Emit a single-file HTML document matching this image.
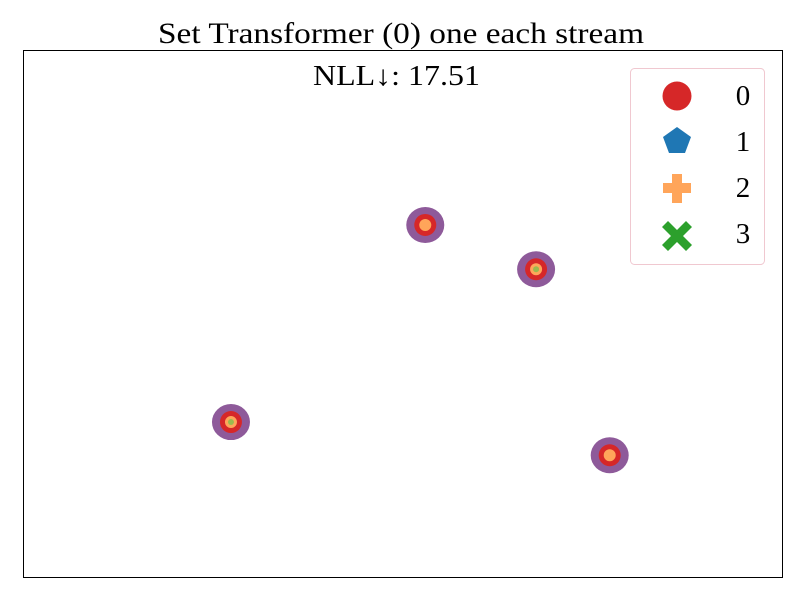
<!DOCTYPE html>
<html><head><meta charset="utf-8">
<style>
html,body{margin:0;padding:0;background:#fff;}
svg{display:block;font-family:"Liberation Serif",serif;}
</style></head>
<body>
<svg id="chart" width="800" height="600" viewBox="0 0 800 600">
<rect width="800" height="600" fill="#fff"/>
<text x="158" y="43" font-size="30" textLength="486" lengthAdjust="spacingAndGlyphs" fill="#000">Set Transformer (0) one each stream</text>
<rect x="23.5" y="50.5" width="759" height="527" fill="none" stroke="#000" stroke-width="1"/>
<text x="313" y="85" font-size="28" textLength="167" lengthAdjust="spacingAndGlyphs" fill="#000">NLL↓: 17.51</text>
<g id="blobs"></g>
<g>
<rect x="630.5" y="68.5" width="134" height="196" rx="4" fill="#fff" stroke="#f0c8d0"/>
<g>
<circle cx="677" cy="96" r="14.5" fill="#d62728"/>
<text x="743" y="105" font-size="29" text-anchor="middle">0</text></g>
<g>
<polygon points="677,127 691,137 685,153 669,153 663,137" fill="#1f77b4"/>
<text x="743" y="151" font-size="29" text-anchor="middle">1</text></g>
<g>
<path d="M672,174h10v9h9v10h-9v10h-10v-10h-9v-10h9z" fill="#ffa55a"/>
<text x="743" y="197" font-size="29" text-anchor="middle">2</text></g>
<g>
<path d="M668,221l9,9l9,-9l6,6l-9,9l9,9l-6,6l-9,-9l-9,9l-6,-6l9,-9l-9,-9z" fill="#2ca02c"/>
<text x="743" y="243" font-size="29" text-anchor="middle">3</text></g>
</g>
</svg>
<script>
const pointX = [0.530, 0.676, 0.274, 0.773];
const pointY = [0.668, 0.584, 0.294, 0.231];
const hasGreenCore = [false, true, true, false];
const xDomain = [0, 1];
const yDomain = [0, 1];
function sx(v){ return 23 + (v - xDomain[0]) / (xDomain[1] - xDomain[0]) * 759; }
function sy(v){ return 577 - (v - yDomain[0]) / (yDomain[1] - yDomain[0]) * 527; }
const g = document.getElementById('blobs');
const ns = 'http://www.w3.org/2000/svg';
pointX.forEach((v, i) => {
  const cx = sx(v), cy = sy(pointY[i]);
  const grp = document.createElementNS(ns, 'g');
  
  
  const layers = [[19, 18, '#8e5a9a'], [11, 11, '#d62728'], [6, 6, '#ffa55a']];
  if (hasGreenCore[i]) layers.push([3, 3, '#9aba4e']);
  layers.forEach(l => {
    const e = document.createElementNS(ns, 'ellipse');
    e.setAttribute('cx', cx); e.setAttribute('cy', cy);
    e.setAttribute('rx', l[0]); e.setAttribute('ry', l[1]);
    e.setAttribute('fill', l[2]);
    
    
    grp.appendChild(e);
  });
  g.appendChild(grp);
});
</script>
</body></html>
